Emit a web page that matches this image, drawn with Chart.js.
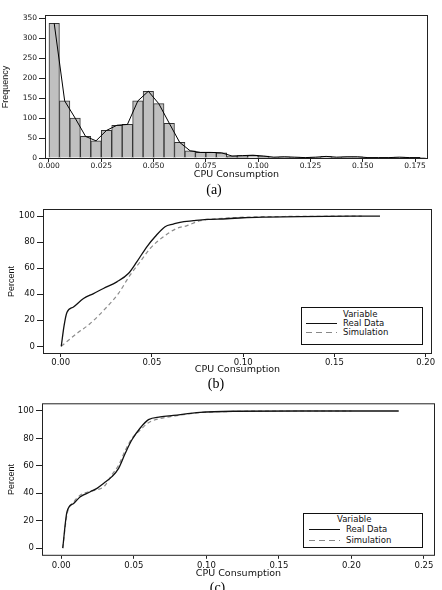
<!DOCTYPE html>
<html>
<head>
<meta charset="utf-8">
<script src="https://cdn.jsdelivr.net/npm/chart.js@4.4.0/dist/chart.umd.min.js"></script>
<style>
  html, body { margin: 0; padding: 0; background: #fff; overflow: hidden; width: 442px; height: 590px; }
  canvas { position: absolute; left: 0; }
  .legend { position: absolute; border: 1px solid #111; background: #fff; font-family: "DejaVu Sans", sans-serif; font-size: 8.5px; color: #111; box-sizing: border-box; }
  .legend span { position: absolute; line-height: 10px; white-space: nowrap; }
  .legend .solid { position: absolute; height: 1.3px; background: #111; }
  .legend .dash { position: absolute; height: 1px; background: repeating-linear-gradient(90deg, #888 0 6px, transparent 6px 10px); }
</style>
</head>
<body>
<canvas id="histChart" width="442" height="199" style="top:0"></canvas>
<canvas id="cdfChart1" width="442" height="198" style="top:195px"></canvas>
<canvas id="cdfChart2" width="442" height="207" style="top:390px"></canvas>

<div class="legend" style="left:301px; top:307px; width:122px; height:38px;">
  <span style="left:41px; top:1px;">Variable</span>
  <div class="solid" style="left:4px; width:31px; top:15px;"></div>
  <span style="left:41px; top:10px;">Real Data</span>
  <div class="dash" style="left:4px; width:31px; top:24px;"></div>
  <span style="left:41px; top:19px;">Simulation</span>
</div>
<div class="legend" style="left:303px; top:513px; width:120px; height:35px;">
  <span style="left:33px; top:0px;">Variable</span>
  <div class="solid" style="left:5px; width:31px; top:15px;"></div>
  <span style="left:42px; top:10px;">Real Data</span>
  <div class="dash" style="left:5px; width:31px; top:26px;"></div>
  <span style="left:42px; top:21px;">Simulation</span>
</div>

<script>
// (a) histogram of CPU consumption, bins of width 0.005
const binCenters = [0.0025, 0.0075, 0.0125, 0.0175, 0.0225, 0.0275, 0.0325, 0.0375, 0.0425, 0.0475,
  0.0525, 0.0575, 0.0625, 0.0675, 0.0725, 0.0775, 0.0825, 0.0875, 0.0925, 0.0975,
  0.1025, 0.1075, 0.1125, 0.1175, 0.1225, 0.1275, 0.1325, 0.1375, 0.1425, 0.1475,
  0.1525, 0.1575, 0.1625, 0.1675, 0.1725, 0.1775];
const frequency = [337, 143, 100, 54, 43, 69, 82, 84, 143, 167,
  136, 87, 39, 18, 14, 14, 13, 5, 6, 7,
  5, 2, 3, 2, 1, 2, 4, 2, 3, 3,
  1, 1, 1, 2, 1, 1];

// (b) empirical CDF, real data vs simulation
const realX1 = [0.0003, 0.0019, 0.0034, 0.007, 0.0125, 0.018, 0.0234, 0.0308, 0.0371, 0.0417, 0.0472,
  0.0517, 0.0572, 0.0617, 0.0654, 0.0727, 0.08, 0.091, 0.1, 0.113, 0.131, 0.175];
const realY1 = [0, 16.2, 25.9, 30.2, 36.7, 40.5, 44.4, 49.5, 55.9, 64.8, 76.4,
  84.1, 91.8, 93.8, 95.2, 96.4, 97.4, 97.9, 98.7, 99.2, 99.6, 100];
const simX1 = [0.0003, 0.0086, 0.016, 0.0253, 0.0316, 0.038, 0.0435, 0.049, 0.0563, 0.0636,
  0.069, 0.0764, 0.0855, 0.0982, 0.113, 0.14, 0.165];
const simY1 = [0, 9.6, 17.3, 30.2, 40.5, 54.6, 64.8, 75.1, 84.1, 90.5,
  92.5, 96.4, 97.9, 99, 99.5, 99.8, 100];

// (c) empirical CDF, real data vs simulation
const realX2 = [0.001, 0.0039, 0.0085, 0.0131, 0.02, 0.0246, 0.0291, 0.0349, 0.0395, 0.0441,
  0.0487, 0.0544, 0.0601, 0.0682, 0.0773, 0.0957, 0.1187, 0.1646, 0.2326];
const realY2 = [0, 26.4, 32.6, 37.4, 41.1, 43.6, 47.2, 52.1, 58.2, 69.2,
  79, 87.6, 93.7, 95.7, 96.8, 99, 99.8, 100, 100];
const simX2 = [0.001, 0.004, 0.0085, 0.013, 0.02, 0.0246, 0.03, 0.0349, 0.0395, 0.044,
  0.0487, 0.0544, 0.0601, 0.0682, 0.0773, 0.0957, 0.12, 0.16, 0.2];
const simY2 = [0, 25, 33.5, 38.5, 41.5, 42.5, 45.5, 53.5, 60.5, 71,
  80, 86, 91.5, 94.5, 96.2, 98.8, 99.7, 100, 100];

const SANS = '"DejaVu Sans", Verdana, sans-serif';
const NARROW = '"Liberation Sans Narrow", "Liberation Sans", Arial, sans-serif';

const points = (xs, ys) => xs.map((x, i) => ({ x, y: ys[i] }));

// box round the plot area, like Minitab draws it
const frame = {
  id: 'frame',
  afterDatasetsDraw(chart) {
    const { ctx, chartArea } = chart;
    ctx.save();
    ctx.strokeStyle = '#222';
    ctx.lineWidth = 1;
    ctx.strokeRect(chartArea.left + 0.5, chartArea.top + 0.5, chartArea.width - 1, chartArea.height - 1);
    ctx.restore();
  },
};

function axes(c) {
  return {
    x: {
      type: 'linear',
      min: c.xMin,
      max: c.xMax,
      offset: false,
      afterFit: (s) => { s.height = c.xH; },
      border: { display: false },
      grid: { drawOnChartArea: false, offset: false, tickLength: 3, color: '#222' },
      ticks: {
        stepSize: c.xStep,
        includeBounds: false,
        autoSkip: false,
        maxRotation: 0,
        padding: c.xPad,
        color: '#111',
        font: { family: SANS, size: c.tick },
        callback: (v) => v.toFixed(c.xDec),
      },
      title: { display: true, text: 'CPU Consumption', color: '#111', padding: 0, font: { family: SANS, size: 9.5 } },
    },
    y: {
      min: c.yMin,
      max: c.yMax,
      afterFit: (s) => { s.width = c.yW; },
      border: { display: false },
      grid: { drawOnChartArea: false, tickLength: 6, color: '#222' },
      ticks: {
        stepSize: c.yStep,
        includeBounds: false,
        padding: 2,
        color: '#111',
        font: { family: SANS, size: c.tick },
      },
      title: { display: true, text: c.yTitle, color: '#111', padding: { top: c.yTitlePad, bottom: 0 }, font: { family: NARROW, size: 9 } },
    },
  };
}

function panelTitle(text, top, bottom) {
  return {
    display: true,
    position: 'bottom',
    text,
    color: '#000',
    padding: { top, bottom },
    font: { family: '"Liberation Serif", "Times New Roman", serif', size: 14, weight: 'normal' },
  };
}

// (a)
new Chart(document.getElementById('histChart'), {
  data: {
    datasets: [
      {
        type: 'line',
        data: points(binCenters, frequency),
        borderColor: '#000',
        borderWidth: 1,
        pointRadius: 0,
        tension: 0,
        order: 0,
      },
      {
        type: 'bar',
        data: points(binCenters, frequency),
        backgroundColor: '#c0c0c0',
        borderColor: '#333',
        borderWidth: 1,
        barPercentage: 1,
        categoryPercentage: 1,
        order: 1,
      },
    ],
  },
  options: {
    responsive: false,
    animation: false,
    layout: { padding: { top: 15, right: 14, left: 0, bottom: 0 } },
    scales: axes({
      xMin: -0.0019, xMax: 0.1812, xStep: 0.025, xDec: 3, xH: 21, xPad: 0,
      yMin: -2.5, yMax: 358, yStep: 50, yW: 45, yTitle: 'Frequency', yTitlePad: 0, tick: 7.5,
    }),
    plugins: { legend: { display: false }, tooltip: { enabled: false }, title: panelTitle('(a)', 1.6, 0.6) },
  },
  plugins: [frame],
});

function cdfChart(id, real, sim, c, label, pad) {
  new Chart(document.getElementById(id), {
    type: 'line',
    data: {
      datasets: [
        {
          label: 'Real Data',
          data: real,
          borderColor: '#111',
          borderWidth: 1.3,
          pointRadius: 0,
          cubicInterpolationMode: 'monotone',
        },
        {
          label: 'Simulation',
          data: sim,
          borderColor: '#8c8c8c',
          borderWidth: 1.2,
          borderDash: [4, 3],
          pointRadius: 0,
          cubicInterpolationMode: 'monotone',
        },
      ],
    },
    options: {
      responsive: false,
      animation: false,
      layout: { padding: pad },
      scales: axes(c),
      plugins: { legend: { display: false }, tooltip: { enabled: false }, title: label },
    },
    plugins: [frame],
  });
}

// (b)
cdfChart('cdfChart1', points(realX1, realY1), points(simX1, simY1), {
  xMin: -0.0097, xMax: 0.2035, xStep: 0.05, xDec: 2, xH: 21.7, xPad: 1,
  yMin: -5.9, yMax: 105.4, yStep: 20, yW: 43, yTitle: 'Percent', yTitlePad: 6, tick: 8.5,
}, panelTitle('(b)', 0, 0.5), { top: 14, right: 10, left: 0, bottom: 0 });

// (c)
cdfChart('cdfChart2', points(realX2, realY2), points(simX2, simY2), {
  xMin: -0.0133, xMax: 0.2576, xStep: 0.05, xDec: 2, xH: 23.4, xPad: 2,
  yMin: -5.6, yMax: 105.6, yStep: 20, yW: 42, yTitle: 'Percent', yTitlePad: 6, tick: 8.5,
}, panelTitle('(c)', 1, 0), { top: 13.3, right: 7, left: 0, bottom: 0 });
</script>
</body>
</html>
